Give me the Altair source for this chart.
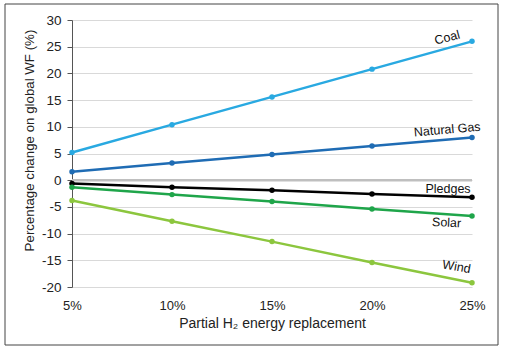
import altair as alt
import pandas as pd

replacement = [5, 10, 15, 20, 25]
coal = [5.2, 10.4, 15.6, 20.8, 26.0]
gas = [1.6, 3.2, 4.8, 6.4, 8.0]
pledges = [-0.6, -1.3, -1.9, -2.6, -3.2]
solar = [-1.3, -2.7, -4.0, -5.4, -6.7]
wind = [-3.8, -7.7, -11.5, -15.4, -19.2]
series_names = ["Coal", "Natural Gas", "Pledges", "Solar", "Wind"]
series_values = [coal, gas, pledges, solar, wind]
colors = ["#29a9e1", "#1f6cb4", "#000000", "#1fa54a", "#8cc63e"]
y_ticks = [-20, -15, -10, -5, 0, 5, 10, 15, 20, 25, 30]

rows = []
for name, vals in zip(series_names, series_values):
    for x, v in zip(replacement, vals):
        rows.append({"x": x, "y": v, "series": name})
df = pd.DataFrame(rows)

W, H = 400, 267
font = "Liberation Sans"

color_scale = alt.Scale(domain=series_names, range=colors)
xs = alt.Scale(domain=[5, 25], nice=False, zero=False)
ys = alt.Scale(domain=[-20, 30], nice=False, zero=False)

x_axis = alt.Axis(values=replacement, labelExpr="datum.value + '%'",
                  grid=False, domain=False, ticks=False, tickSize=0, labelFlush=False,
                  labelPadding=12, labelFontSize=13, labelColor="#222",
                  title="Partial H₂ energy replacement", titleFontSize=14,
                  titleFontWeight="normal", titleColor="#222", titlePadding=4,
                  labelFont=font, titleFont=font)
y_axis = alt.Axis(values=y_ticks, labelExpr="'' + datum.value", labelOverlap=False,
                  grid=True, gridColor="#d9d9d9",
                  domainColor="#555", tickColor="#555", tickSize=5,
                  labelPadding=6, labelFontSize=13.5, labelColor="#222", labelFlush=False,
                  title="Percentage change on global WF (%)", titleFontSize=13.3,
                  titleFontWeight="normal", titleColor="#222",
                  titleX=-43, titleY=120, titleBaseline="middle",
                  labelFont=font, titleFont=font)

X = lambda: alt.X("x:Q", scale=xs, axis=x_axis)
Y = lambda: alt.Y("y:Q", scale=ys, axis=y_axis)

base = alt.Chart(df).encode(
    x=X(), y=Y(),
    color=alt.Color("series:N", scale=color_scale, legend=None),
    detail="series:N",
)

zero = alt.Chart(pd.DataFrame({"y": [0]})).mark_rule(color="#bfbfbf", strokeWidth=2.5).encode(y=Y())

lines = base.mark_line(strokeWidth=2.5)
points = base.mark_circle(size=30, opacity=1)

label_styles = {
    "Coal": dict(dx=-23, dy=-10, angle=345),
    "Natural Gas": dict(dx=-24, dy=-10, angle=355),
    "Pledges": dict(dx=-24, dy=-8, angle=0),
    "Solar": dict(dx=-25, dy=8, angle=3),
    "Wind": dict(dx=-18, dy=-13, angle=10),
}
label_layers = []
for name, vals in zip(series_names, series_values):
    st = label_styles[name]
    ldf = pd.DataFrame({"x": [replacement[-1]], "y": [vals[-1]], "label": [name]})
    label_layers.append(
        alt.Chart(ldf).mark_text(font=font, fontSize=12.5, color="#111", align="center",
                                 baseline="middle", **st).encode(
            x=X(), y=Y(), text="label:N")
    )

frame = alt.Chart(pd.DataFrame({"a": [0]})).mark_rect(filled=False, stroke="#444", strokeWidth=1).encode(
    x=alt.value(-67), x2=alt.value(426), y=alt.value(-16), y2=alt.value(325))

chart = alt.layer(lines, zero, points, *label_layers, frame).properties(
    width=W, height=H,
    autosize=alt.AutoSizeParams(type="none"),
    padding={"left": 72, "top": 20, "right": 33, "bottom": 61},
    background="white",
).configure_view(stroke=None)

chart.save("out.html", embed_options={"renderer": "svg", "actions": False})
